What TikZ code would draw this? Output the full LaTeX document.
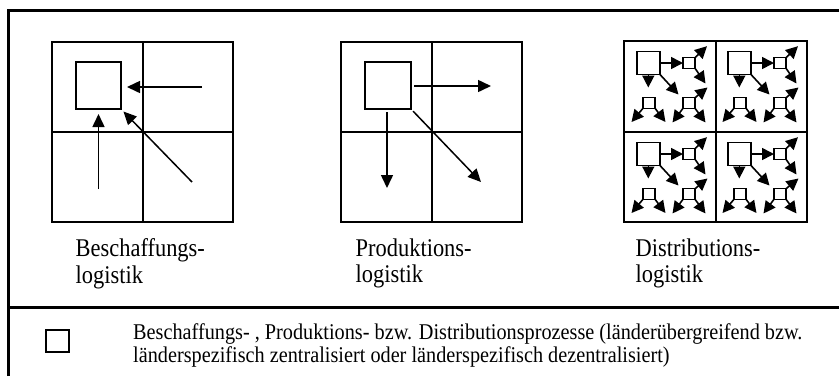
\documentclass[tikz,border=0pt]{standalone}
\usepackage{fontspec}
\setmainfont{Liberation Serif}
\newfontfamily\lblfont[FakeStretch=0.88]{Liberation Serif}
\newfontfamily\legfont[FakeStretch=0.9]{Liberation Serif}
\usetikzlibrary{arrows.meta}
\tikzset{
  frameline/.style={line width=3pt},
  divline/.style={line width=2.2pt},
  gridline/.style={line width=2pt},
  bigsq/.style={draw, line width=1.6pt, inner sep=0pt, outer sep=0pt},
  bigarr/.style={line width=1.5pt, -{Triangle[length=13pt,width=12pt]}},
  cellline/.style={line width=2pt},
  dsq/.style={draw, line width=1.5pt, inner sep=0pt, outer sep=0pt, minimum width=23pt, minimum height=22.6pt},
  ssq/.style={draw, line width=1.3pt, inner sep=0pt, outer sep=0pt, minimum width=12pt, minimum height=10.5pt},
  sarr/.style={line width=1.6pt, -{Triangle[length=12pt,width=12pt]}},
  lbl/.style={anchor=north west, align=left, inner sep=0pt, font=\lblfont\fontsize{25.5}{26.5}\selectfont},
  legtxt/.style={anchor=north west, align=left, inner sep=0pt, font=\legfont\fontsize{22.5}{23.5}\selectfont},
  distcell/.pic={
    \node[dsq] (-big) at (23.3,22) {};
    \node[ssq] (-a) at (64,22) {};
    \node[ssq] (-b) at (24,62) {};
    \node[ssq] (-c) at (64,62) {};
    \coordinate (-d1) at (23.3,46.5);
    \coordinate (-d2) at (53.5,53.5);
    \coordinate (-a1) at (82,5.2);
    \coordinate (-a2) at (80.5,42.5);
    \coordinate (-b1) at (6.5,81);
    \coordinate (-b2) at (40.5,81);
    \coordinate (-c1) at (82.5,46.5);
    \coordinate (-c2) at (47.5,81.5);
    \coordinate (-c3) at (80.5,81.5);
    \draw[sarr] (-big.east) -- (-a.west);
    \draw[sarr] (-big.south) -- (-d1);
    \draw[sarr] (-big.south east) -- (-d2);
    \draw[sarr] (-a.north east) -- (-a1);
    \draw[sarr] (-a.south east) -- (-a2);
    \draw[sarr] (-b.south west) -- (-b1);
    \draw[sarr] (-b.south east) -- (-b2);
    \draw[sarr] (-c.north east) -- (-c1);
    \draw[sarr] (-c.south west) -- (-c2);
    \draw[sarr] (-c.south east) -- (-c3);
  }
}
\begin{document}
\begin{tikzpicture}[x=1pt,y=-1pt]
\useasboundingbox (0,0) rectangle (839,376);
% frame
\coordinate (ftl) at (8.8,10.8);
\coordinate (ftr) at (839,10.8);
\coordinate (fbl) at (8.8,376);
\coordinate (dl) at (8.8,307.5);
\coordinate (dr) at (839,307.5);
\draw[frameline] (fbl) -- (ftl) -- (ftr);
\draw[divline] (dl) -- (dr);

% Box 1: Beschaffung
\node[draw, gridline, minimum width=181pt, minimum height=180pt, inner sep=0pt] (g1) at (142.5,132) {};
\draw[gridline] (g1.north) -- (g1.south);
\draw[gridline] (g1.west) -- (g1.east);
\node[bigsq, minimum width=45pt, minimum height=47pt] (s1) at (98.5,85.5) {};
\coordinate (p1) at (202,87);
\coordinate (p2) at (98.5,189);
\coordinate (p3) at (192,182);
\draw[bigarr, shorten >=6pt] (p1) -- (s1.east |- p1);
\draw[bigarr, shorten >=5pt] (p2) -- (s1.south);
\draw[bigarr, shorten >=3.5pt] (p3) -- (s1.south east);
\node[lbl] (l1) at (75.5,238.5) {Beschaffungs-\\logistik};

% Box 2: Produktion
\node[draw, gridline, minimum width=181pt, minimum height=180pt, inner sep=0pt] (g2) at (431.5,132) {};
\draw[gridline] (g2.north) -- (g2.south);
\draw[gridline] (g2.west) -- (g2.east);
\node[bigsq, minimum width=46pt, minimum height=47pt] (s2) at (388,85.5) {};
\coordinate (q1) at (491,86);
\coordinate (q2) at (387,188);
\coordinate (q3) at (481,182);
\draw[bigarr, shorten <=3pt] (s2.east |- q1) -- (q1);
\draw[bigarr, shorten <=3pt] (s2.south -| q2) -- (q2);
\draw[bigarr, shorten <=3pt] (s2.south east) -- (q3);
\node[lbl] (l2) at (355.5,238.5) {Produktions-\\logistik};

% Box 3: Distribution
\node[draw, cellline, minimum width=183pt, minimum height=181pt, inner sep=0pt] (g3) at (715.5,131.5) {};
\draw[cellline] (g3.north) -- (g3.south);
\draw[cellline] (g3.west) -- (g3.east);
\pic (c1) at (625,41) {distcell};
\pic (c2) at (716,41) {distcell};
\pic (c3) at (625,132) {distcell};
\pic (c4) at (716,132) {distcell};
\node[lbl] (l3) at (635.5,238.5) {Distributions-\\logistik};

% Legend
\node[bigsq, minimum width=23pt, minimum height=22pt] (leg) at (57.5,341) {};
\node[legtxt] (legt) at (133,323) {Beschaffungs- , Produktions- bzw. Distributionsprozesse (länderübergreifend bzw.\\länderspezifisch zentralisiert oder länderspezifisch dezentralisiert)};
\end{tikzpicture}
\end{document}
